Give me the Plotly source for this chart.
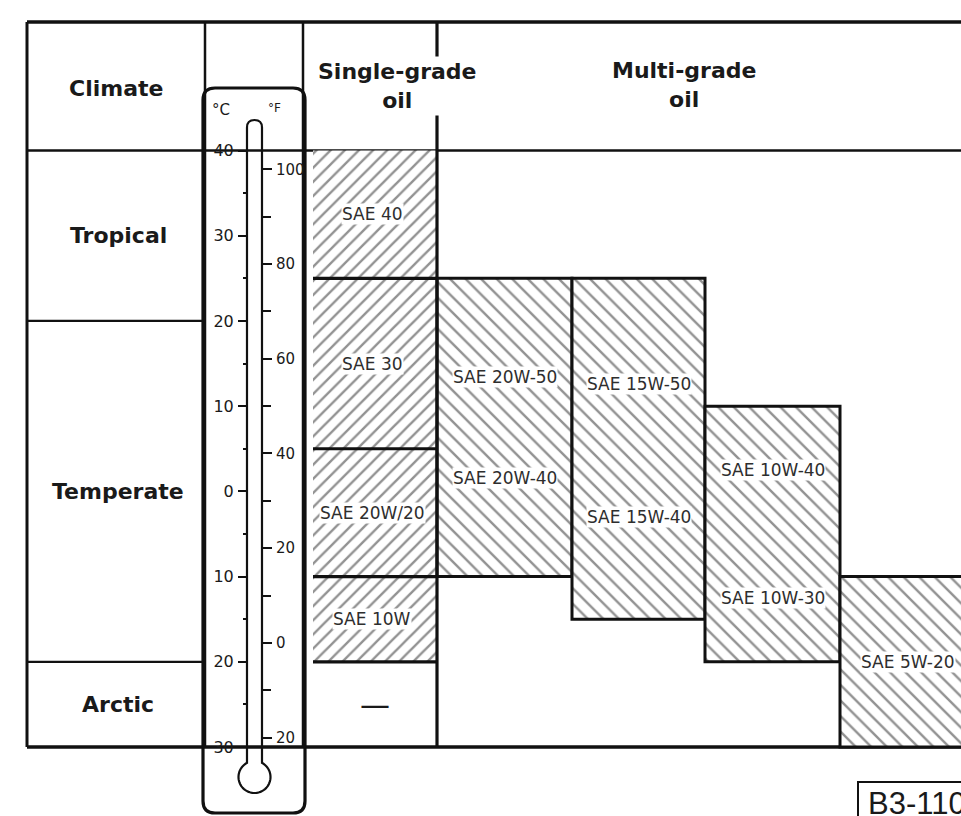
import numpy as np
import plotly.graph_objects as go

# ---------------- data ----------------
climate_names = ["Tropical", "Temperate", "Arctic"]
climate_high = [40, 20, -20]
climate_low = [20, -20, -30]

single_grades = ["SAE 40", "SAE 30", "SAE 20W/20", "SAE 10W"]
single_high = [40, 25, 5, -10]
single_low = [25, 5, -10, -20]
single_arctic_text = "\u2014"

multi_grades = [
    ["SAE 20W-50", "SAE 20W-40"],
    ["SAE 15W-50", "SAE 15W-40"],
    ["SAE 10W-40", "SAE 10W-30"],
    ["SAE 5W-20"],
]
multi_high = [25, 25, 10, -10]
multi_low = [-10, -15, -20, -30]

celsius_ticks = [40, 30, 20, 10, 0, -10, -20, -30]
celsius_labels = ["40", "30", "20", "10", "0", "10", "20", "30"]
celsius_minor = [35, 25, 15, 5, -5, -15, -25]
fahrenheit_ticks = [100, 80, 60, 40, 20, 0, -20]
fahrenheit_labels = ["100", "80", "60", "40", "20", "0", "20"]
fahrenheit_minor = [90, 70, 50, 30, 10, -10]

headers = ["Climate", "Single-grade<br>oil", "Multi-grade<br>oil"]
figure_code = "B3-110"

# ---------------- layout geometry (pixels) ----------------
W, H = 961, 816
PX_PER_C = 8.521          # vertical pixels per degree C
ROW_ZERO = 491.36         # pixel row of 0 degC
y_range = [-(H - ROW_ZERO) / PX_PER_C, ROW_ZERO / PX_PER_C]
f_range = [c * 1.8 + 32 for c in y_range]


def row_to_c(py_):
    return (ROW_ZERO - py_) / PX_PER_C


def px(x):
    return x / W


def py(y):
    return 1 - y / H


FRAME_L, FRAME_T = 27, 22
TOP_C = row_to_c(FRAME_T)
BOTTOM_C = climate_low[-1]
RIGHT = W + 40
CLIMATE_X = 118
CLIMATE_R = 205
THERMO_R = 303
SINGLE_L, SINGLE_R = 313, 437
col_edges = [437, 572, 705, 840, 975]
label_fracs = [[0.33, 0.67], [0.31, 0.70], [0.25, 0.75], [0.5]]

BOX_L, BOX_R, BOX_T, BOX_B, BOX_RAD = 203, 305, 88, 813, 12
TUBE_L, TUBE_R, TUBE_T = 247, 262, 120
BULB_CX, BULB_CY, BULB_R = 254.5, 777, 16

INK = "#111111"
HATCH = "#262626"
LABEL_INK = "#2e2e2e"

fig = go.Figure()

# ---------------- hatched grade blocks ----------------
single_x = (SINGLE_L + SINGLE_R) / 2
fig.add_trace(go.Bar(
    x=[single_x] * len(single_grades),
    y=[h - l for h, l in zip(single_high, single_low)],
    base=single_low,
    width=SINGLE_R - SINGLE_L,
    marker=dict(color="white", line=dict(width=0),
                pattern=dict(shape="/", fgcolor=HATCH, bgcolor="white",
                             size=10, solidity=0.24)),
    hoverinfo="skip", showlegend=False,
))

multi_x = [(a + b) / 2 for a, b in zip(col_edges[:-1], col_edges[1:])]
multi_w = [b - a for a, b in zip(col_edges[:-1], col_edges[1:])]
fig.add_trace(go.Bar(
    x=multi_x,
    y=[h - l for h, l in zip(multi_high, multi_low)],
    base=multi_low,
    width=multi_w,
    marker=dict(color="white", line=dict(width=3, color=INK),
                pattern=dict(shape="\\", fgcolor=HATCH, bgcolor="white",
                             size=11, solidity=0.22)),
    hoverinfo="skip", showlegend=False,
))

# invisible anchors for the two thermometer scales
fig.add_trace(go.Scatter(x=[TUBE_L] * len(celsius_ticks), y=celsius_ticks,
                         yaxis="y2", mode="markers", marker=dict(opacity=0),
                         hoverinfo="skip", showlegend=False))
fig.add_trace(go.Scatter(x=[TUBE_R] * len(fahrenheit_ticks), y=fahrenheit_ticks,
                         yaxis="y3", mode="markers", marker=dict(opacity=0),
                         hoverinfo="skip", showlegend=False))

# ---------------- table rules ----------------
shapes = []


def hline(x0, x1, c, w, layer="below"):
    shapes.append(dict(type="line", xref="x", yref="y", x0=x0, x1=x1, y0=c, y1=c,
                       line=dict(color=INK, width=w), layer=layer))


def vline(x, c0, c1, w, layer="below"):
    shapes.append(dict(type="line", xref="x", yref="y", x0=x, x1=x, y0=c0, y1=c1,
                       line=dict(color=INK, width=w), layer=layer))


hline(FRAME_L, RIGHT, TOP_C, 3.5)
vline(FRAME_L, TOP_C, BOTTOM_C, 3)
hline(FRAME_L, RIGHT, climate_high[0], 2.5)
for c in climate_low[:-1]:
    hline(FRAME_L, CLIMATE_R, c, 2.2)
hline(FRAME_L, RIGHT, BOTTOM_C, 3.5)
vline(CLIMATE_R, TOP_C, BOTTOM_C, 2.5)
vline(THERMO_R, TOP_C, BOTTOM_C, 2.5)


def path_str(cmds, close=True):
    out = []
    for cmd in cmds:
        op, vals = cmd[0], cmd[1:]
        pts = []
        for i in range(0, len(vals), 2):
            pts.append(f"{px(vals[i]):.5f},{py(vals[i + 1]):.5f}")
        out.append(op + " " + " ".join(pts))
    return " ".join(out) + (" Z" if close else "")


# thermometer case (rounded box)
r = BOX_RAD
case_cmds = [
    ("M", BOX_L + r, BOX_T), ("L", BOX_R - r, BOX_T), ("Q", BOX_R, BOX_T, BOX_R, BOX_T + r),
    ("L", BOX_R, BOX_B - r), ("Q", BOX_R, BOX_B, BOX_R - r, BOX_B),
    ("L", BOX_L + r, BOX_B), ("Q", BOX_L, BOX_B, BOX_L, BOX_B - r),
    ("L", BOX_L, BOX_T + r), ("Q", BOX_L, BOX_T, BOX_L + r, BOX_T),
]
shapes.append(dict(type="path", xref="paper", yref="paper", path=path_str(case_cmds),
                   fillcolor="white", line=dict(color=INK, width=3.2), layer="below"))

# tube with the bulb at its foot
half = (TUBE_R - TUBE_L) / 2
tube_cx = (TUBE_L + TUBE_R) / 2
join_dy = np.sqrt(BULB_R ** 2 - half ** 2)
tube_cmds = [("M", TUBE_L, BULB_CY - join_dy), ("L", TUBE_L, TUBE_T + half),
             ("Q", TUBE_L, TUBE_T, tube_cx, TUBE_T), ("Q", TUBE_R, TUBE_T, TUBE_R, TUBE_T + half),
             ("L", TUBE_R, BULB_CY - join_dy)]
theta_r = np.arctan2(join_dy, half)
theta_l = np.arctan2(join_dy, -half) - 2 * np.pi
for a in np.linspace(theta_r, theta_l, 64):
    tube_cmds.append(("L", BULB_CX + BULB_R * np.cos(a), BULB_CY - BULB_R * np.sin(a)))
shapes.append(dict(type="path", xref="paper", yref="paper", path=path_str(tube_cmds),
                   fillcolor="white", line=dict(color=INK, width=2.2), layer="below"))

# separators inside the single-grade column and the main divider
for c in single_low:
    hline(SINGLE_L, SINGLE_R, c, 3.2, layer="above")
vline(SINGLE_R, TOP_C, BOTTOM_C, 3.2, layer="above")

# figure code box
shapes.append(dict(type="rect", xref="paper", yref="paper",
                   x0=px(858), x1=px(1000), y0=py(782), y1=py(840),
                   line=dict(color=INK, width=2), fillcolor="white", layer="above"))

# ---------------- text ----------------
ann = []
HEAD_FONT = dict(family="DejaVu Sans", size=22, color="#1a1a1a", weight="bold")
GRADE_FONT = dict(family="DejaVu Sans", size=17, color=LABEL_INK)


def label(x, y, text, font, ref="paper", **kw):
    d = dict(x=x, y=y, xref="paper" if ref == "paper" else "x",
             yref="paper" if ref == "paper" else "y", text=text, showarrow=False,
             font=font, xanchor="center", yanchor="middle")
    d.update(kw)
    ann.append(d)


label(px(116), py(88), headers[0], HEAD_FONT)
label(px(397), py(86), headers[1], HEAD_FONT, bgcolor="white", borderpad=2)
label(px(684), py(85), headers[2], HEAD_FONT)

for name, hi, lo in zip(climate_names, climate_high, climate_low):
    label(CLIMATE_X, (hi + lo) / 2, name, HEAD_FONT, ref="data")

for name, hi, lo in zip(single_grades, single_high, single_low):
    label(single_x - 3, (hi + lo) / 2, name, GRADE_FONT, ref="data",
          bgcolor="white", borderpad=0)
label(single_x, (climate_high[2] + climate_low[2]) / 2, single_arctic_text,
      dict(family="DejaVu Sans", size=30, color="#1a1a1a"), ref="data")

for names, hi, lo, cx, fracs in zip(multi_grades, multi_high, multi_low, multi_x, label_fracs):
    for name, f in zip(names, fracs):
        label(cx, hi - (hi - lo) * f, name, GRADE_FONT, ref="data",
              bgcolor="white", borderpad=0)

label(px(221), py(110), "\u00b0C", dict(family="DejaVu Sans", size=15, color="#1a1a1a"))
label(px(274), py(108), "\u00b0F", dict(family="DejaVu Sans", size=12, color="#1a1a1a"))

label(px(866), py(803), figure_code,
      dict(family="Liberation Sans", size=31, color="#1a1a1a"), xanchor="left")

# ---------------- axes ----------------
fig.update_layout(
    width=W, height=H,
    margin=dict(l=0, r=0, t=0, b=0),
    paper_bgcolor="white", plot_bgcolor="white",
    barmode="overlay",
    showlegend=False,
    xaxis=dict(range=[0, W], visible=False, fixedrange=True),
    yaxis=dict(range=y_range, visible=False, fixedrange=True),
    yaxis2=dict(
        overlaying="y", anchor="free", position=px(TUBE_L), side="left",
        range=y_range, autorange=False, automargin=False,
        tickmode="array", tickvals=celsius_ticks, ticktext=celsius_labels,
        ticks="outside", ticklen=9, tickwidth=1.6, tickcolor=INK,
        showline=False, showgrid=False, zeroline=False,
        tickfont=dict(family="DejaVu Sans", size=16, color="#1a1a1a"), ticklabelstandoff=1,
        minor=dict(tickmode="array", tickvals=celsius_minor, ticks="outside",
                   ticklen=4, tickwidth=1.6, tickcolor=INK, showgrid=False),
        fixedrange=True,
    ),
    yaxis3=dict(
        overlaying="y", anchor="free", position=px(TUBE_R), side="right",
        range=f_range, autorange=False, automargin=False,
        tickmode="array", tickvals=fahrenheit_ticks, ticktext=fahrenheit_labels,
        ticks="outside", ticklen=9, tickwidth=1.6, tickcolor=INK,
        showline=False, showgrid=False, zeroline=False,
        tickfont=dict(family="DejaVu Sans", size=15, color="#1a1a1a"), ticklabelstandoff=1,
        minor=dict(tickmode="array", tickvals=fahrenheit_minor, ticks="outside",
                   ticklen=8, tickwidth=1.6, tickcolor=INK, showgrid=False),
        fixedrange=True,
    ),
    shapes=shapes,
    annotations=ann,
)

fig.write_html("out.html", config={"displayModeBar": False})
